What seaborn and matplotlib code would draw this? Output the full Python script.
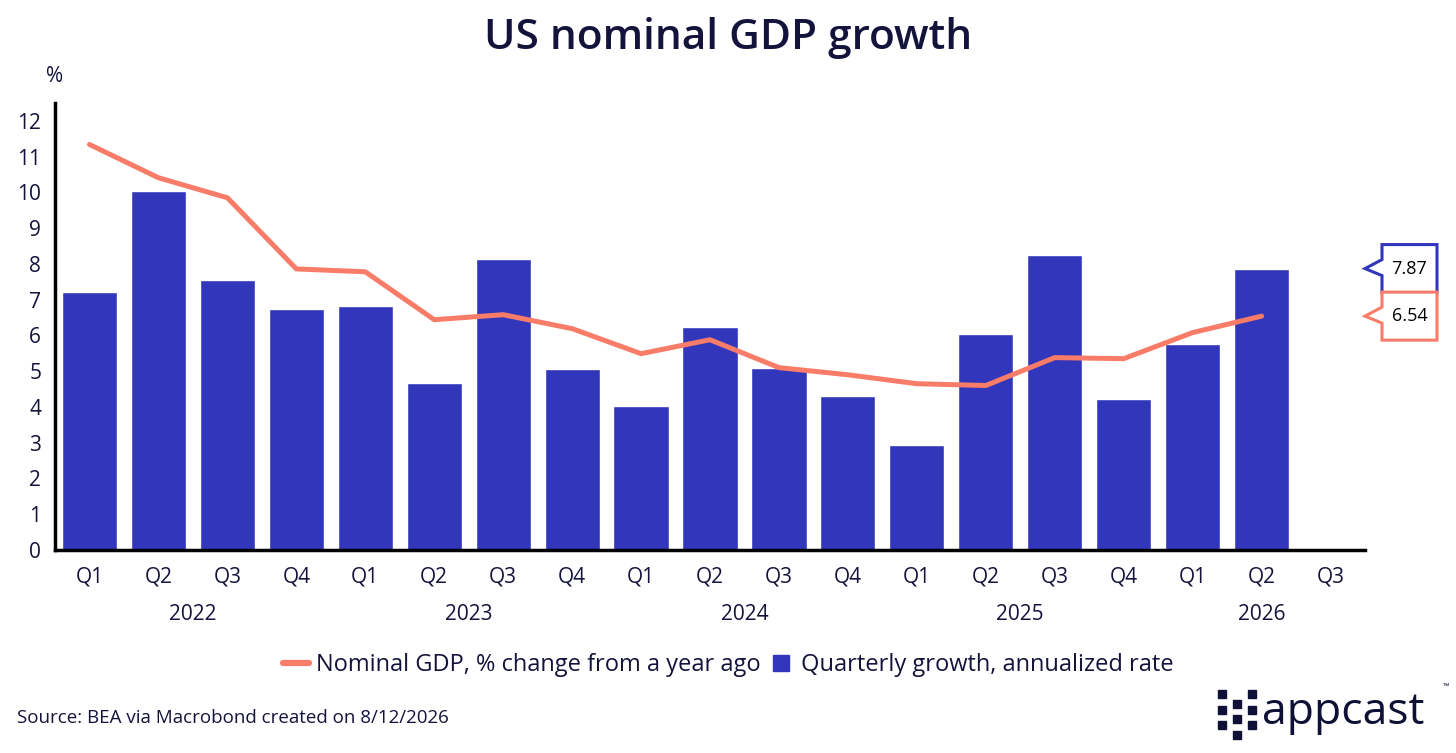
import numpy as np
import pandas as pd
import matplotlib.pyplot as plt
import matplotlib.transforms as mtransforms
from matplotlib.path import Path
from matplotlib.patches import PathPatch, Rectangle
from matplotlib.lines import Line2D
import seaborn as sns

# données
quarters = ['Q1', 'Q2', 'Q3', 'Q4'] * 4 + ['Q1', 'Q2', 'Q3']
years = ['2022', '2023', '2024', '2025', '2026']
year_pos = [1.5, 5.5, 9.5, 13.5, 17]
quarterly_growth = [7.22, 10.04, 7.55, 6.74, 6.83, 4.67, 8.14, 5.06, 4.03, 6.24,
                    5.09, 4.31, 2.94, 6.04, 8.25, 4.22, 5.76, 7.87]
yoy_change = [11.34, 10.41, 9.85, 7.86, 7.78, 6.44, 6.58, 6.19, 5.49, 5.88,
              5.10, 4.90, 4.65, 4.60, 5.38, 5.35, 6.08, 6.54]

BLUE = '#3236BA'
SALMON = '#F87C68'
INK = '#14133B'

sns.set_style('white')
plt.rcParams['font.family'] = ['Open Sans', 'DejaVu Sans']

ids = [f'{i}' for i in range(len(quarters))]
df = pd.DataFrame({'id': ids[:len(quarterly_growth)], 'growth': quarterly_growth})

fig = plt.figure(figsize=(14.56, 7.53), dpi=100)
ax = fig.add_axes([0.0378, 0.2696, 0.8997, 0.5936])

sns.barplot(data=df, x='id', y='growth', order=ids, color=BLUE, width=0.8,
            saturation=1, ax=ax, errorbar=None)
sns.lineplot(x=np.arange(len(yoy_change)), y=yoy_change, color=SALMON,
             linewidth=3.6, ax=ax)

ax.set_xlim(-0.5, len(quarters) - 0.5)
ax.set_ylim(0, 12.5)
ax.set_xlabel('')
ax.set_ylabel('')

# axes
for s in ['top', 'right']:
    ax.spines[s].set_visible(False)
for s in ['left', 'bottom']:
    ax.spines[s].set_color('black')
    ax.spines[s].set_linewidth(2.5)

ax.set_yticks(range(0, 13))
ax.tick_params(axis='y', length=6, width=1.2, color='#6b6b8a', labelsize=15,
               labelcolor=INK, pad=4)
ax.set_xticks(np.arange(-0.5, len(quarters), 1.0))
ax.set_xticklabels([])
ax.tick_params(axis='x', which='major', length=7, width=1.5, color='black')
ax.set_xticks(np.arange(len(quarters)), minor=True)
ax.set_xticklabels(quarters, minor=True)
ax.tick_params(axis='x', which='minor', length=0, labelsize=15,
               labelcolor=INK, pad=12)

tr = mtransforms.blended_transform_factory(ax.transData, ax.transAxes)
for y, p in zip(years, year_pos):
    ax.text(p, -0.12, y, transform=tr, ha='center', va='top', fontsize=15,
            color=INK)

ax.text(0, 1.06, '%', transform=ax.transAxes, ha='center', va='center',
        fontsize=15, color=INK)

# étiquettes de dernière valeur
btr = mtransforms.blended_transform_factory(ax.transAxes, ax.transData)
verts = [(0, 0), (0.17, 0.09), (0.17, 0.24), (0.72, 0.24), (0.72, -0.24),
         (0.17, -0.24), (0.17, -0.07), (0, 0)]
codes = [Path.MOVETO] + [Path.LINETO] * 6 + [Path.CLOSEPOLY]
for val, col in [(quarterly_growth[-1], BLUE), (yoy_change[-1], SALMON)]:
    t = fig.dpi_scale_trans + mtransforms.ScaledTranslation(1.0, val, btr)
    patch = PathPatch(Path(verts, codes), facecolor='white', edgecolor=col,
                      linewidth=2.2, transform=t, clip_on=False)
    ax.add_artist(patch)
    ax.text(0.445, 0, f'{val:.2f}', transform=t, ha='center', va='center',
            fontsize=13, color='black')

fig.suptitle('US nominal GDP growth', x=0.5, y=0.978, fontsize=30.5,
             fontweight='semibold', color=INK)

# légende
handles = [Line2D([0], [0], color=SALMON, lw=4.5),
           Line2D([0], [0], marker='s', color='none', markerfacecolor=BLUE,
                  markeredgecolor=BLUE, markersize=12)]
fig.legend(handles, ['Nominal GDP, % change from a year ago',
                     'Quarterly growth, annualized rate'],
           loc='center', bbox_to_anchor=(0.5, 0.117), ncol=2, frameon=False,
           fontsize=17, handlelength=1.1, handletextpad=0.3, columnspacing=0.3,
           labelcolor=INK)

fig.text(0.012, 0.046, 'Source: BEA via Macrobond created on 8/12/2026',
         fontsize=13.5, color=INK, va='center')

# logo
fig.text(0.867, 0.054, 'appcast', fontsize=32, color='#0F1035', va='center',
         ha='left', fontweight='medium')
fig.text(0.991, 0.087, '™', fontsize=6, color='#0F1035', va='center')
icon_cols = [1218, 1233, 1248]
icon_tops = [[690, 706, 721], [700, 715, 731], [690, 706, 721]]
for left, tops in zip(icon_cols, icon_tops):
    for top in tops:
        fig.patches.append(Rectangle((left / 1456, 1 - (top + 8) / 753),
                                     8 / 1456, 8 / 753, color='#0F1035',
                                     transform=fig.transFigure))

fig.savefig('out.png', dpi=100)
